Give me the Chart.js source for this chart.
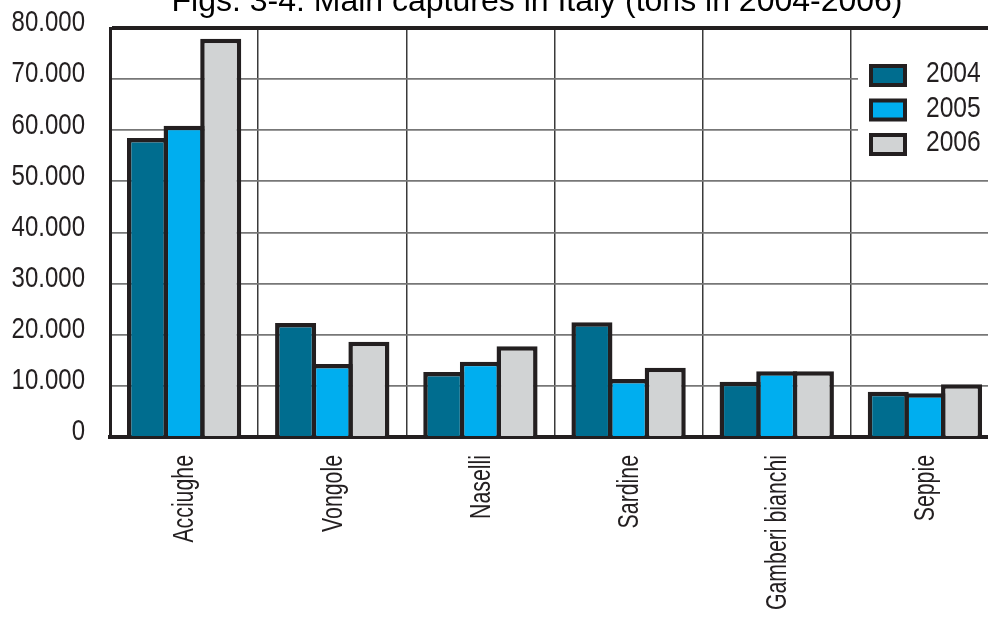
<!DOCTYPE html>
<html lang="en">

<head>
    <meta charset="UTF-8">
    <title>Main captures in Italy</title>
    <style>
        html, body { margin: 0; padding: 0; background: #fff; overflow: hidden; }
        #wrap { width: 1000px; height: 618px; }
    </style>
</head>

<body>
    <div id="wrap">
        <canvas id="myChart"></canvas>
    </div>

    <script src="https://cdn.jsdelivr.net/npm/chart.js@4.4.2/dist/chart.umd.min.js"></script>

    <script>
        // data (tons)
        var categories = ['Acciughe', 'Vongole', 'Naselli', 'Sardine', 'Gamberi bianchi', 'Seppie'];
        var years = ['2004', '2005', '2006'];
        var captures2004 = [58500, 22300, 12700, 22450, 10800, 8850];
        var captures2005 = [60900, 14300, 14700, 11350, 12850, 8550];
        var captures2006 = [77900, 18650, 17750, 13550, 12850, 10300];
        var yTicks = [0, 10000, 20000, 30000, 40000, 50000, 60000, 70000, 80000];

        var titleText = 'Figs. 3-4: Main captures in Italy (tons in 2004-2006)';
        var fills = ['#006d8f', '#00aeef', '#d1d3d4'];
        var edge = '#231f20';
        var sans = '"Liberation Sans", Arial, sans-serif';

        var ctx = document.getElementById('myChart');

        var fmtTick = function (v) {
            return v === 0 ? '0' : (v / 1000).toFixed(0) + '.000';
        };

        // the original uses a condensed face, none installed, so squeeze the glyphs
        var narrowText = function (c, text, x, y, size, sx, align, angle) {
            c.save();
            c.translate(x, y);
            if (angle) c.rotate(angle);
            c.scale(sx, 1);
            c.font = size + 'px ' + sans;
            c.textAlign = align;
            c.textBaseline = 'middle';
            c.fillText(text, 0, 0);
            c.restore();
        };

        var decorations = {
            id: 'decorations',
            afterDraw: function (chart) {
                var c = chart.ctx;
                var xs = chart.scales.x;
                var ys = chart.scales.y;
                c.save();
                c.fillStyle = '#000';
                c.font = '32px ' + sans;
                c.textAlign = 'center';
                c.textBaseline = 'alphabetic';
                c.fillText(titleText, 537, 11);

                c.fillStyle = edge;
                ys.ticks.forEach(function (t) {
                    narrowText(c, fmtTick(t.value), 85, ys.getPixelForValue(t.value) - 5, 30, 0.8, 'right');
                });
                chart.data.labels.forEach(function (lab, i) {
                    narrowText(c, lab, xs.getPixelForTick(i) + 1, 455, 30, 0.71, 'right', -Math.PI / 2);
                });

                // legend inside the plot, top right
                c.fillStyle = '#fff';
                c.fillRect(858, 42, 142, 130);
                chart.data.datasets.forEach(function (ds, i) {
                    var y = 64 + i * 34.5;
                    c.fillStyle = edge;
                    c.fillRect(869, y, 38, 23);
                    c.fillStyle = ds.backgroundColor;
                    c.fillRect(873, y + 4, 30, 15);
                    c.fillStyle = edge;
                    narrowText(c, ds.label, 926, y + 10, 30, 0.82, 'left');
                });
                c.restore();
            }
        };

        var series = [captures2004, captures2005, captures2006];

        new Chart(ctx, {
            type: 'bar',
            data: {
                labels: categories,
                datasets: years.map(function (yr, i) {
                    return {
                        label: yr,
                        data: series[i],
                        backgroundColor: fills[i],
                        borderColor: edge,
                        borderWidth: 4.5,
                        borderSkipped: 'start',
                        categoryPercentage: 0.742,
                        barPercentage: 1.12,
                    };
                }),
            },
            options: {
                responsive: true,
                maintainAspectRatio: false,
                animation: false,
                layout: {
                    padding: { top: 28, right: 1, left: 0, bottom: 0 },
                },
                scales: {
                    x: {
                        afterFit: function (axis) { axis.height = 181; },
                        border: { display: true, color: edge, width: 4 },
                        grid: {
                            offset: true,
                            color: '#3a3a3a',
                            lineWidth: 1.5,
                            drawTicks: false,
                        },
                        ticks: { display: false },
                    },
                    y: {
                        min: 0,
                        max: 80000,
                        afterFit: function (axis) { axis.width = 110; },
                        afterBuildTicks: function (axis) {
                            axis.ticks = yTicks.map(function (v) { return { value: v }; });
                        },
                        border: { display: true, color: edge, width: 3 },
                        grid: {
                            drawTicks: false,
                            color: function (c) {
                                return (c.tick && (c.tick.value === 80000 || c.tick.value === 0)) ? edge : '#777777';
                            },
                            lineWidth: function (c) {
                                return (c.tick && c.tick.value === 80000) ? 4 : 1.8;
                            },
                        },
                        ticks: { display: false },
                    },
                },
                plugins: {
                    legend: { display: false },
                    title: { display: false },
                    tooltip: { enabled: false },
                },
            },
            plugins: [decorations],
        });
    </script>
</body>

</html>
